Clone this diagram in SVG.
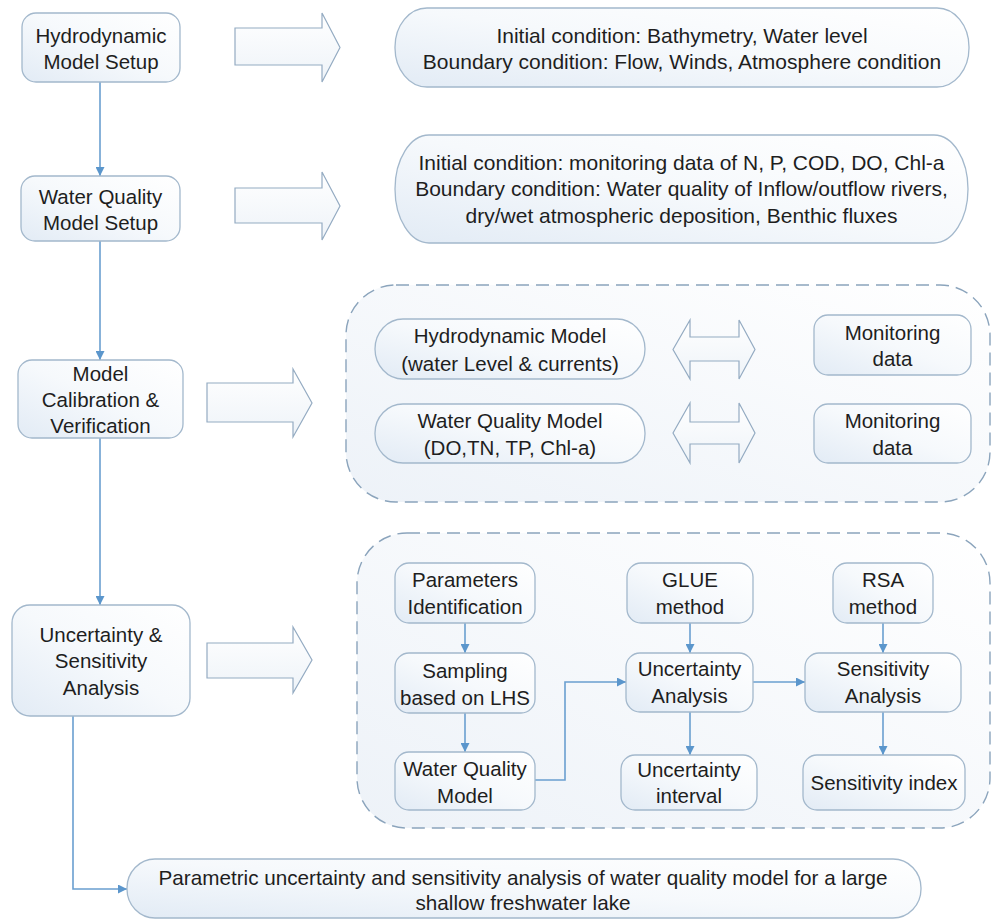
<svg xmlns="http://www.w3.org/2000/svg" width="992" height="920" viewBox="0 0 992 920">
<defs>
<linearGradient id="nodeGrad" x1="1" y1="0" x2="0" y2="1">
<stop offset="0" stop-color="#ffffff"/>
<stop offset="0.5" stop-color="#f6f9fc"/>
<stop offset="1" stop-color="#e2ebf5"/>
</linearGradient>
<linearGradient id="dashGrad" x1="1" y1="0" x2="0" y2="1">
<stop offset="0" stop-color="#ffffff"/>
<stop offset="1" stop-color="#edf2f8"/>
</linearGradient>
<linearGradient id="arrowGrad" x1="0" y1="0" x2="0" y2="1">
<stop offset="0" stop-color="#ffffff"/>
<stop offset="1" stop-color="#eef3f8"/>
</linearGradient>
<marker id="ah" viewBox="0 0 10 10" refX="10" refY="5" markerWidth="9" markerHeight="9" markerUnits="userSpaceOnUse" orient="auto">
<path d="M0,0 L10,5 L0,10 Z" fill="#5b96cc"/>
</marker>
<style>
.box{fill:url(#nodeGrad);stroke:#a3b8cc;stroke-width:1.3}
.dash{fill:url(#dashGrad);stroke:#8ba4bc;stroke-width:1.4;stroke-dasharray:13 7}
.blk{fill:url(#arrowGrad);stroke:#94abc2;stroke-width:1.2}
.con{fill:none;stroke:#6a9fd0;stroke-width:1.6}
text{font-family:"Liberation Sans","Noto Sans",Arial,sans-serif;font-size:20.5px;fill:#1e1e1e;text-anchor:middle;dominant-baseline:central}
.big text{font-size:21px}
.res text{font-size:20.7px}
</style>
</defs>
<rect width="992" height="920" fill="#ffffff"/>

<g id="containers">
<rect class="dash" x="346" y="285" width="644" height="217" rx="50" ry="50"/>
<rect class="dash" x="357" y="533" width="633" height="295" rx="50" ry="50"/>
</g>

<g id="block-arrows">
<path class="blk" d="M235,28 H322 V13 L340,47.5 L322,82 V65 H235 Z"/>
<path class="blk" d="M235,188 H322 V172 L340,206 L322,240 V223 H235 Z"/>
<path class="blk" d="M207,383 H293 V369 L312,403 L293,437 V422 H207 Z"/>
<path class="blk" d="M207,643 H293 V627 L312,660 L293,693 V678 H207 Z"/>
<path class="blk" d="M673,349.5 L690,320 V337 H739 V320 L755,349.5 L739,379 V361 H690 V379 Z"/>
<path class="blk" d="M673,433 L690,403 V422 H739 V403 L755,433 L739,463 V444 H690 V463 Z"/>
</g>

<g id="connectors">
<path class="con" d="M100,82 V176" marker-end="url(#ah)"/>
<path class="con" d="M100,241 V360" marker-end="url(#ah)"/>
<path class="con" d="M100,438 V605" marker-end="url(#ah)"/>
<path class="con" d="M73,716 V889 H127" marker-end="url(#ah)"/>
<path class="con" d="M465,623 V653" marker-end="url(#ah)"/>
<path class="con" d="M465,713 V752" marker-end="url(#ah)"/>
<path class="con" d="M535,780 H565 V682 H626" marker-end="url(#ah)"/>
<path class="con" d="M690,623 V653" marker-end="url(#ah)"/>
<path class="con" d="M690,712 V755" marker-end="url(#ah)"/>
<path class="con" d="M753,682 H805" marker-end="url(#ah)"/>
<path class="con" d="M883,623 V653" marker-end="url(#ah)"/>
<path class="con" d="M883,712 V755" marker-end="url(#ah)"/>
</g>

<g id="n-hydro-setup">
<rect class="box" x="22" y="13" width="158" height="69" rx="14"/>
<text x="101" y="35">Hydrodynamic</text>
<text x="101" y="61">Model Setup</text>
</g>
<g id="n-wq-setup">
<rect class="box" x="21" y="176" width="159" height="65" rx="14"/>
<text x="100.5" y="196">Water Quality</text>
<text x="100.5" y="222">Model Setup</text>
</g>
<g id="n-calibration">
<rect class="box" x="18" y="360" width="165" height="78" rx="14"/>
<text x="100.5" y="373">Model</text>
<text x="100.5" y="399">Calibration &amp;</text>
<text x="100.5" y="425">Verification</text>
</g>
<g id="n-uncertainty">
<rect class="box" x="12" y="605" width="178" height="111" rx="18"/>
<text x="101" y="634.5">Uncertainty &amp;</text>
<text x="101" y="660.5">Sensitivity</text>
<text x="101" y="687">Analysis</text>
</g>

<g id="n-hydro-conditions" class="big">
<rect class="box" x="395" y="8" width="574" height="79" rx="32" ry="39"/>
<text x="682" y="35">Initial condition: Bathymetry, Water level</text>
<text x="682" y="61">Boundary condition: Flow, Winds, Atmosphere condition</text>
</g>
<g id="n-wq-conditions" class="big">
<rect class="box" x="395" y="135" width="573" height="108" rx="34" ry="54"/>
<text x="681.5" y="162">Initial condition: monitoring data of N, P, COD, DO, Chl-a</text>
<text x="681.5" y="188">Boundary condition: Water quality of Inflow/outflow rivers,</text>
<text x="681.5" y="215">dry/wet atmospheric deposition, Benthic fluxes</text>
</g>

<g id="n-hydro-model">
<rect class="box" x="375" y="319" width="270" height="60" rx="28" ry="30"/>
<text x="510" y="335">Hydrodynamic Model</text>
<text x="510" y="363">(water Level &amp; currents)</text>
</g>
<g id="n-wq-model">
<rect class="box" x="375" y="404" width="270" height="59" rx="28" ry="29"/>
<text x="510" y="420">Water Quality Model</text>
<text x="510" y="447">(DO,TN, TP, Chl-a)</text>
</g>
<g id="n-monitoring-1">
<rect class="box" x="814" y="315" width="157" height="60" rx="14"/>
<text x="892.5" y="332">Monitoring</text>
<text x="892.5" y="358">data</text>
</g>
<g id="n-monitoring-2">
<rect class="box" x="814" y="404" width="157" height="59" rx="14"/>
<text x="892.5" y="420">Monitoring</text>
<text x="892.5" y="447">data</text>
</g>

<g id="n-parameters">
<rect class="box" x="395" y="563" width="140" height="60" rx="14"/>
<text x="465" y="579">Parameters</text>
<text x="465" y="606">Identification</text>
</g>
<g id="n-sampling">
<rect class="box" x="395" y="653" width="140" height="60" rx="14"/>
<text x="465" y="670">Sampling</text>
<text x="465" y="697">based on LHS</text>
</g>
<g id="n-wq-model-2">
<rect class="box" x="395" y="752" width="140" height="58" rx="14"/>
<text x="465" y="768">Water Quality</text>
<text x="465" y="795">Model</text>
</g>
<g id="n-glue">
<rect class="box" x="627" y="563" width="126" height="60" rx="14"/>
<text x="690" y="579">GLUE</text>
<text x="690" y="606">method</text>
</g>
<g id="n-ua">
<rect class="box" x="626" y="653" width="127" height="59" rx="14"/>
<text x="689.5" y="668">Uncertainty</text>
<text x="689.5" y="695">Analysis</text>
</g>
<g id="n-ui">
<rect class="box" x="621" y="755" width="136" height="55" rx="14"/>
<text x="689" y="769">Uncertainty</text>
<text x="689" y="795">interval</text>
</g>
<g id="n-rsa">
<rect class="box" x="833" y="563" width="100" height="60" rx="14"/>
<text x="883" y="579">RSA</text>
<text x="883" y="606">method</text>
</g>
<g id="n-sa">
<rect class="box" x="805" y="653" width="156" height="59" rx="14"/>
<text x="883" y="668">Sensitivity</text>
<text x="883" y="695">Analysis</text>
</g>
<g id="n-si">
<rect class="box" x="803" y="755" width="162" height="55" rx="14"/>
<text x="884" y="782">Sensitivity index</text>
</g>

<g id="n-result" class="res">
<rect class="box" x="127" y="859" width="794" height="59" rx="28" ry="29"/>
<text x="523" y="877">Parametric uncertainty and sensitivity analysis of water quality model for a large</text>
<text x="523" y="902">shallow freshwater lake</text>
</g>
</svg>
